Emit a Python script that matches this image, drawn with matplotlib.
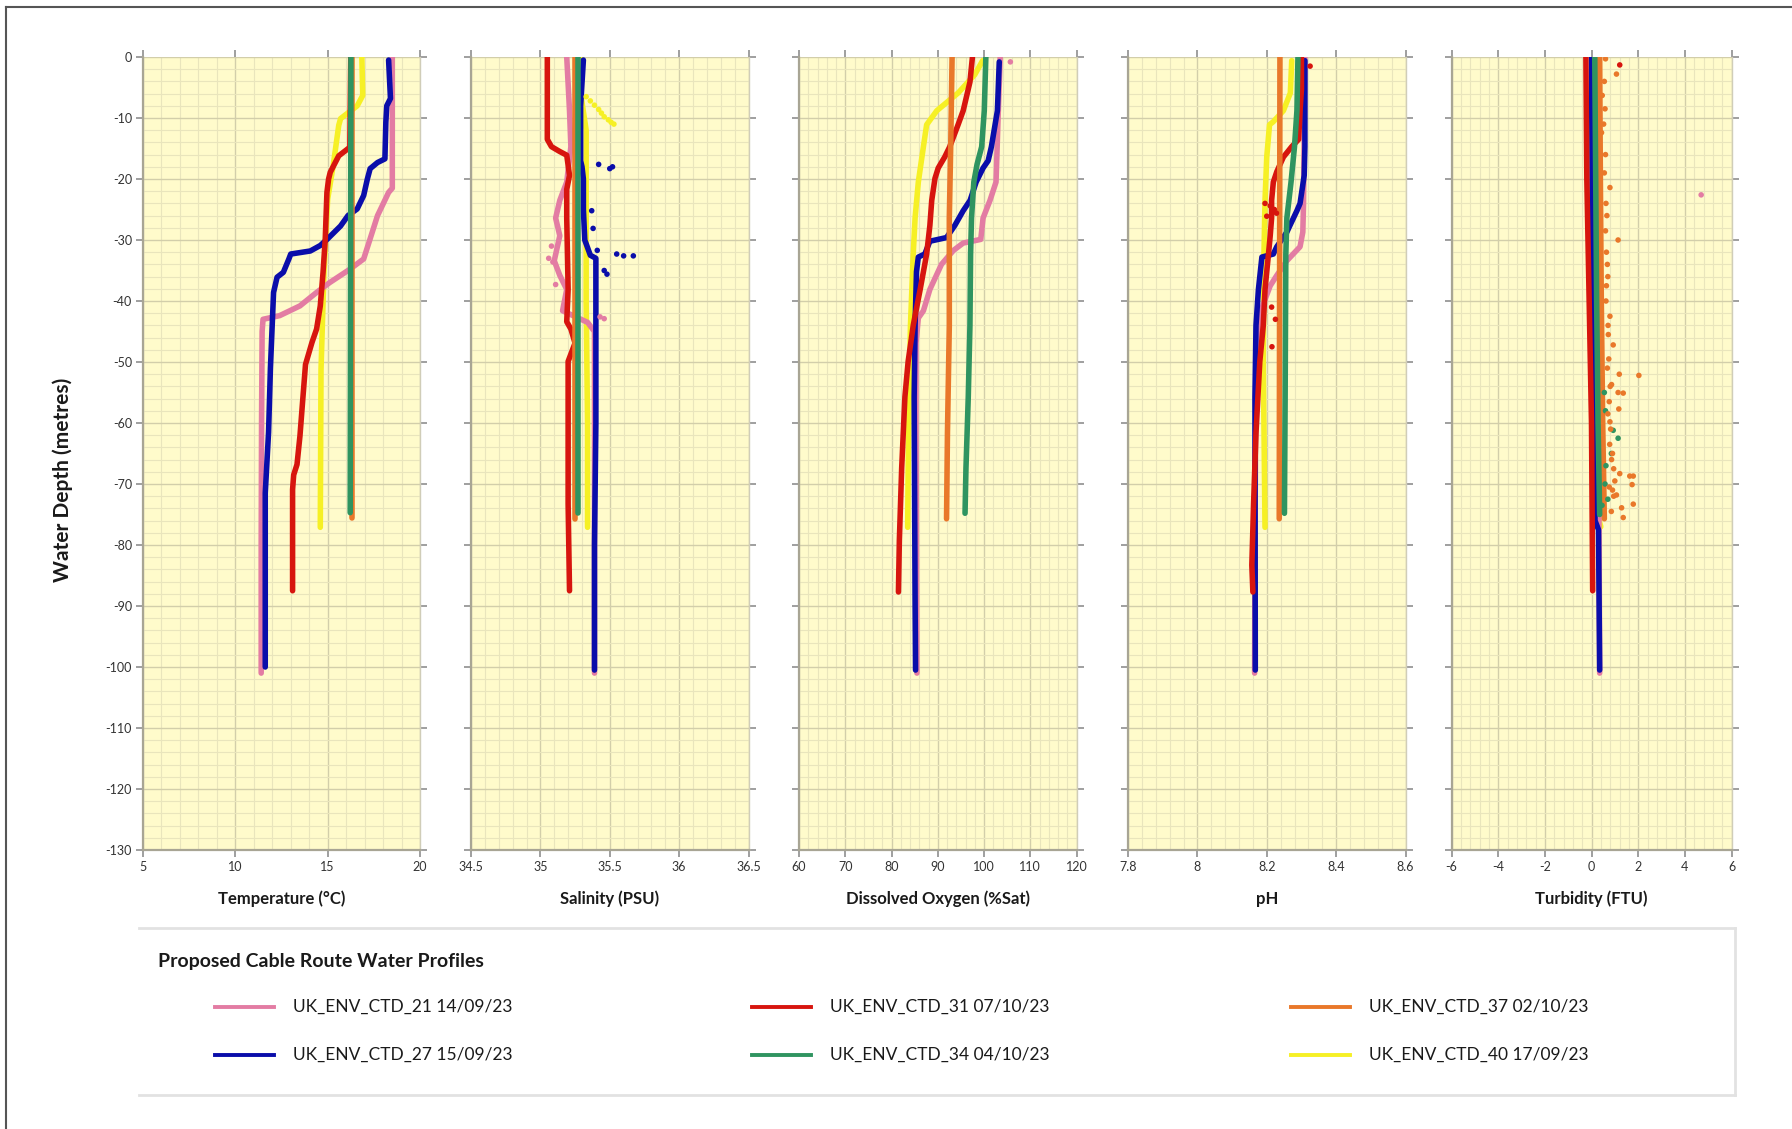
import matplotlib
matplotlib.use("Agg")
import matplotlib.pyplot as plt
from matplotlib.lines import Line2D
from matplotlib.ticker import MultipleLocator, FuncFormatter

plt.rcParams['font.family'] = ['Lato', 'DejaVu Sans']

# ---------------- series ----------------
SERIES = ["UK_ENV_CTD_21 14/09/23", "UK_ENV_CTD_27 15/09/23", "UK_ENV_CTD_31 07/10/23",
          "UK_ENV_CTD_34 04/10/23", "UK_ENV_CTD_37 02/10/23", "UK_ENV_CTD_40 17/09/23"]
COLORS = ["#E37CA3", "#0A0DAA", "#D7150E", "#2F9460", "#E9782A", "#F6F025"]

# ---------------- Temperature (°C) ----------------
T21_D = [0, -21.5, -22.2, -26, -29.8, -33.1, -34.8, -37, -38.6, -40.8, -42.4, -43, -45, -60, -80, -101]
T21_V = [18.5, 18.5, 18.3, 17.7, 17.3, 16.95, 16.2, 15.1, 14.4, 13.5, 12.4, 11.5, 11.45, 11.42, 11.4, 11.4]
T27_D = [-0.5, -6.8, -8, -10.7, -16.7, -17.3, -18.3, -20, -22.7, -24.9, -26, -27.7, -29.8, -30.9, -31.8,
         -32.3, -33.1, -35.3, -36.1, -38.6, -51, -61.5, -71.5, -100]
T27_V = [18.3, 18.4, 18.2, 18.15, 18.1, 17.7, 17.3, 17.15, 16.95, 16.6, 16.1, 15.7, 15.0, 14.6, 14.06,
         13.0, 12.9, 12.6, 12.26, 12.07, 11.9, 11.8, 11.62, 11.62]
T31_D = [0, -14.8, -16.2, -18.9, -20, -22.2, -29.8, -35.3, -40.8, -44.6, -46.8, -50.4, -56.2, -62.1,
         -66.8, -68.5, -70.9, -87.5]
T31_V = [16.25, 16.2, 15.6, 15.14, 15.05, 14.96, 14.87, 14.75, 14.6, 14.4, 14.15, 13.8, 13.65, 13.5,
         13.34, 13.16, 13.1, 13.1]
T34_D = [0, -74.7]
T34_V = [16.26, 16.22]
T37_D = [0, -75.6]
T37_V = [16.33, 16.33]
T40_D = [0, -6.3, -8, -10.1, -11.2, -17.8, -23.3, -35.3, -51.2, -77.1]
T40_V = [16.85, 16.9, 16.6, 15.7, 15.6, 15.3, 15.0, 14.8, 14.64, 14.6]

# ---------------- Salinity (PSU) ----------------
S21_D = [0, -8.8, -14.7, -20.5, -23.5, -26.4, -29.3, -33.4, -35.8, -38.1, -41.6, -43.5, -45, -60, -80, -101]
S21_V = [35.19, 35.21, 35.22, 35.19, 35.14, 35.11, 35.14, 35.1, 35.14, 35.19, 35.16, 35.34, 35.39, 35.39, 35.39, 35.39]
S21_OUT_D = [-31.0, -33.0, -33.6, -37.3, -42.6, -42.9]
S21_OUT_V = [35.08, 35.06, 35.09, 35.11, 35.43, 35.46]
S27_D = [-0.5, -8, -17, -18, -20, -25, -30, -32.5, -33, -36, -40, -60, -80, -100.5]
S27_V = [35.31, 35.29, 35.29, 35.30, 35.31, 35.31, 35.32, 35.36, 35.40, 35.40, 35.40, 35.40, 35.39, 35.39]
S27_OUT_D = [-17.6, -18.0, -18.3, -25.2, -28.1, -31.7, -32.3, -32.6, -32.6, -35.0, -35.6]
S27_OUT_V = [35.42, 35.52, 35.50, 35.37, 35.38, 35.41, 35.55, 35.60, 35.67, 35.46, 35.48]
S31_D = [0, -13.5, -14.7, -15.5, -16.1, -19.4, -21.7, -26.4, -38.1, -43.4, -44.6, -46.9, -48.7, -49.9,
         -55.7, -73.3, -87.5]
S31_V = [35.05, 35.05, 35.08, 35.14, 35.19, 35.21, 35.19, 35.19, 35.2, 35.19, 35.22, 35.25, 35.22, 35.2,
         35.2, 35.2, 35.21]
S34_D = [0, -74.8]
S34_V = [35.27, 35.27]
S37_D = [0, -75.7]
S37_V = [35.25, 35.25]
S40_D = [0, -5.9, -12, -20, -40, -60, -77.1]
S40_V = [35.29, 35.29, 35.33, 35.33, 35.33, 35.34, 35.34]
S40_OUT_D = [-6.5, -7.2, -7.9, -8.6, -9.2, -9.8, -10.3, -10.7, -11.0]
S40_OUT_V = [35.33, 35.36, 35.39, 35.42, 35.44, 35.46, 35.49, 35.51, 35.53]

# ---------------- Dissolved Oxygen (%Sat) ----------------
D21_D = [0, -8.8, -20.5, -23.5, -26.4, -29.9, -30.5, -31.7, -34, -38.1, -41.6, -42.8, -46.9, -60, -80, -101]
D21_V = [103.5, 103.1, 102.6, 101.3, 99.8, 99.3, 95.5, 93.4, 90.8, 88.3, 86.9, 85.8, 85.3, 85.3, 85.4, 85.5]
D21_OUT_D = [-0.8]
D21_OUT_V = [105.7]
D27_D = [-0.8, -8.8, -14.7, -17, -18.2, -20.5, -23.5, -25.2, -27.6, -29.6, -30.2, -32.3, -32.8, -35.2,
         -44, -55.7, -89, -100.5]
D27_V = [103.3, 102.9, 101.6, 100.9, 99.8, 98.3, 97.0, 95.5, 93.7, 91.9, 88.3, 87.2, 85.8, 85.4,
         85.1, 84.9, 85.1, 85.2]
D31_D = [0, -4.1, -8.8, -11.1, -14.7, -16.4, -18.2, -19.9, -23.5, -27.6, -32.3, -38.1, -44, -49.9,
         -55.7, -67.4, -79.2, -87.7]
D31_V = [97.5, 96.96, 95.5, 94.4, 92.6, 91.5, 90.1, 89.4, 88.7, 88.3, 87.6, 86.2, 84.7, 83.6,
         82.9, 82.2, 81.7, 81.5]
D34_D = [0, -8.8, -14.7, -17.6, -20.5, -26.4, -32.3, -44, -55.7, -67.4, -74.8]
D34_V = [100.4, 100.06, 99.5, 98.5, 97.8, 97.3, 97.1, 96.96, 96.6, 96.1, 95.9]
D37_D = [0, -14.7, -26.4, -44, -61.6, -75.7]
D37_V = [93.1, 92.8, 92.5, 92.5, 92.1, 91.9]
D40_D = [-0.6, -2.9, -5.9, -8.8, -11.1, -14.7, -20.5, -26.4, -32.3, -44, -55.7, -67.4, -77.1]
D40_V = [99.7, 98.0, 94.4, 89.8, 87.6, 86.9, 85.8, 85.1, 84.7, 84.1, 83.8, 83.6, 83.5]

# ---------------- pH ----------------
P21_D = [0, -24, -28.7, -31.1, -33.4, -35.8, -37.5, -40.5, -44, -60, -80, -101]
P21_V = [8.31, 8.306, 8.304, 8.296, 8.258, 8.229, 8.21, 8.19, 8.176, 8.168, 8.166, 8.165]
P27_D = [-0.6, -14.7, -19.4, -24, -25.2, -27.6, -28.7, -31.1, -32.3, -32.8, -38.1, -44, -55.7, -100.5]
P27_V = [8.31, 8.31, 8.308, 8.296, 8.287, 8.267, 8.258, 8.229, 8.219, 8.186, 8.176, 8.169, 8.166, 8.167]
P31_D = [0, -5.3, -8.8, -13.5, -14.7, -16.4, -18.8, -20.5, -23.5, -26.4, -29.3, -32.3, -38.1, -44,
         -49.9, -61.6, -73.3, -83.3, -87.7]
P31_V = [8.30, 8.30, 8.296, 8.292, 8.272, 8.248, 8.229, 8.219, 8.214, 8.214, 8.21, 8.205, 8.195, 8.19,
         8.18, 8.169, 8.162, 8.157, 8.16]
P31_OUT_D = [-1.5, -24.0, -24.4, -25.0, -25.6, -26.1, -41.0, -43.0, -47.5]
P31_OUT_V = [8.325, 8.195, 8.21, 8.222, 8.228, 8.2, 8.214, 8.225, 8.215]
P34_D = [0, -8.8, -14.7, -20.5, -26.4, -32.3, -55.7, -74.8]
P34_V = [8.29, 8.287, 8.28, 8.27, 8.258, 8.255, 8.253, 8.251]
P37_D = [0, -75.7]
P37_V = [8.238, 8.236]
P40_D = [-0.6, -5.9, -8.8, -10.6, -11.1, -16.4, -23.5, -32.3, -49.9, -77.1]
P40_V = [8.272, 8.268, 8.248, 8.219, 8.208, 8.2, 8.195, 8.192, 8.19, 8.195]

# ---------------- Turbidity (FTU) ----------------
U21_D = [0, -60, -101]
U21_V = [0.25, 0.3, 0.35]
U21_OUT_D = [-22.6]
U21_OUT_V = [4.7]
U27_D = [0, -40, -76, -77.5, -100.5]
U27_V = [0.0, 0.05, 0.15, 0.3, 0.35]
U31_D = [0, -20, -40, -60, -87.5]
U31_V = [-0.24, -0.2, -0.1, 0.0, 0.05]
U34_D = [0, -20, -40, -60, -75]
U34_V = [0.14, 0.18, 0.22, 0.28, 0.35]
U34_OUT_D = [-61.2, -62.5, -65.0, -72.5, -55.0, -58.0, -67.0, -70.0, -73.5]
U34_OUT_V = [0.93, 1.14, 0.85, 0.7, 0.55, 0.6, 0.62, 0.58, 0.45]
U37_D = [0, -20, -40, -60, -75.7]
U37_V = [0.35, 0.38, 0.42, 0.48, 0.55]
U37_OUT_D = [-0.3, -2.8, -6.3, -12.4, -21.4, -30, -37.5, -42.5, -44, -47.2, -52, -52.2, -53.7, -55,
             -55.1, -57.7, -59.8, -68.3, -68.7, -68.7, -70.1, -70.5, -71.8, -73.3, -73.9, -75.5,
             -4.0, -8.5, -11.0, -16.0, -19.0, -24.0, -26.0, -28.5, -32.0, -34.0, -36.0, -40.0,
             -45.5, -49.5, -51.0, -54.0, -56.5, -58.5, -61.0, -63.5, -65.0, -66.0, -67.5, -69.5,
             -71.0, -72.0, -74.5]
U37_OUT_V = [0.6, 1.07, 0.46, 0.43, 0.79, 1.14, 0.64, 0.79, 0.71, 0.93, 1.19, 2.03, 0.86, 1.14,
             1.36, 1.17, 0.79, 1.21, 1.64, 1.79, 1.74, 0.76, 1.07, 1.79, 1.29, 1.36,
             0.55, 0.58, 0.52, 0.6, 0.55, 0.62, 0.66, 0.6, 0.64, 0.68, 0.7, 0.62,
             0.72, 0.74, 0.68, 0.8, 0.76, 0.7, 0.82, 0.78, 0.9, 0.86, 0.95, 1.0,
             0.9, 0.95, 0.85]
U31_OUT_D = [-1.3]
U31_OUT_V = [1.21]
U40_D = [0, -20, -40, -60, -75, -77]
U40_V = [0.1, 0.1, 0.12, 0.2, 0.25, 0.4]

# ---------------- axes definitions ----------------
XLABELS = ["Temperature (°C)", "Salinity (PSU)", "Dissolved Oxygen (%Sat)", "pH", "Turbidity (FTU)"]
XLIMS = [(5, 20), (34.5, 36.5), (60, 120), (7.8, 8.6), (-6, 6)]
XMAJOR = [5, 0.5, 10, 0.2, 2]

PANELS = [
    [(T21_D, T21_V), (T27_D, T27_V), (T31_D, T31_V), (T34_D, T34_V), (T37_D, T37_V), (T40_D, T40_V)],
    [(S21_D, S21_V), (S27_D, S27_V), (S31_D, S31_V), (S34_D, S34_V), (S37_D, S37_V), (S40_D, S40_V)],
    [(D21_D, D21_V), (D27_D, D27_V), (D31_D, D31_V), (D34_D, D34_V), (D37_D, D37_V), (D40_D, D40_V)],
    [(P21_D, P21_V), (P27_D, P27_V), (P31_D, P31_V), (P34_D, P34_V), (P37_D, P37_V), (P40_D, P40_V)],
    [(U21_D, U21_V), (U27_D, U27_V), (U31_D, U31_V), (U34_D, U34_V), (U37_D, U37_V), (U40_D, U40_V)],
]
OUTLIERS = [
    [],
    [(0, S21_OUT_D, S21_OUT_V), (1, S27_OUT_D, S27_OUT_V), (5, S40_OUT_D, S40_OUT_V)],
    [(0, D21_OUT_D, D21_OUT_V)],
    [(2, P31_OUT_D, P31_OUT_V)],
    [(0, U21_OUT_D, U21_OUT_V), (3, U34_OUT_D, U34_OUT_V), (4, U37_OUT_D, U37_OUT_V), (2, U31_OUT_D, U31_OUT_V)],
]

# ---------------- figure ----------------
W, H = 1792, 1129
fig = plt.figure(figsize=(W / 100, H / 100), dpi=100)
fig.patch.set_facecolor("white")

def fx(p):
    return p / W

def fy(p):
    return 1 - p / H

AX_X = [(143, 420), (471, 748.5), (799, 1076.5), (1128, 1405.5), (1451.5, 1731.5)]
AX_TOP, AX_BOT = 57, 850
DRAW_ORDER = [5, 0, 1, 2, 4, 3]

fmt = FuncFormatter(lambda v, p: ("%g" % round(v, 6)).replace("\u2212", "-"))

for k in range(5):
    l, r = AX_X[k]
    ax = fig.add_axes([fx(l), fy(AX_BOT), (r - l) / W, (AX_BOT - AX_TOP) / H])
    ax.set_facecolor("#FFFBCB")
    ax.set_xlim(*XLIMS[k])
    ax.set_ylim(-130, 0)
    ax.xaxis.set_major_locator(MultipleLocator(XMAJOR[k]))
    ax.xaxis.set_minor_locator(MultipleLocator(XMAJOR[k] / 5))
    ax.yaxis.set_major_locator(MultipleLocator(10))
    ax.yaxis.set_minor_locator(MultipleLocator(2))
    ax.xaxis.set_major_formatter(fmt)
    ax.yaxis.set_major_formatter(fmt)
    ax.grid(which="major", color="#D2CEAA", lw=1.0)
    ax.grid(which="minor", color="#E9E5BC", lw=0.8)
    ax.set_axisbelow(True)
    ax.tick_params(which="major", direction="out", length=5, width=1.2, color="#8F8F8F",
                   labelsize=9, labelcolor="#333333", pad=3,
                   top=True, bottom=True, left=True, right=True, labelleft=(k == 0))
    ax.tick_params(which="minor", length=0)
    for s in ["left", "bottom"]:
        ax.spines[s].set_color("#A8A594")
        ax.spines[s].set_linewidth(1.6)
    ax.spines["right"].set_color("#D0CDB8")
    ax.spines["right"].set_linewidth(1.0)
    ax.spines["top"].set_visible(False)

    for i in DRAW_ORDER:
        d, v = PANELS[k][i]
        ax.plot(v, d, color=COLORS[i], lw=4.0, solid_capstyle="round", solid_joinstyle="round",
                zorder=3 + DRAW_ORDER.index(i))
    for (i, d, v) in OUTLIERS[k]:
        ax.scatter(v, d, s=16, color=COLORS[i], edgecolors="none", zorder=10)

    fig.text(fx((l + r) / 2), fy(899), XLABELS[k], ha="center", va="center",
             fontsize=12, fontweight="bold", color="#1a1a1a")

fig.text(fx(63), fy(480), "Water Depth (metres)", rotation=90, ha="center", va="center",
         fontsize=15, fontweight="bold", color="#1a1a1a")

# ---------------- legend ----------------
box = "#E2E2E2"
fig.add_artist(Line2D([fx(139), fx(1735)], [fy(928), fy(928)], color=box, lw=2))
fig.add_artist(Line2D([fx(139), fx(1735)], [fy(1095), fy(1095)], color=box, lw=2))
fig.add_artist(Line2D([fx(1735), fx(1735)], [fy(928), fy(1095)], color=box, lw=2))
fig.text(fx(158), fy(961), "Proposed Cable Route Water Profiles", ha="left", va="center",
         fontsize=14, fontweight="bold", color="#1a1a1a")
COL_X = [215, 752, 1291]
ROW_Y = [1007, 1055]
for i, name in enumerate(SERIES):
    cx = COL_X[i // 2]
    ry = ROW_Y[i % 2]
    fig.add_artist(Line2D([fx(cx), fx(cx + 59)], [fy(ry), fy(ry)], color=COLORS[i], lw=2.8))
    fig.text(fx(cx + 78), fy(ry), name, ha="left", va="center", fontsize=12.5, color="#1a1a1a")

# outer frame (left and top)
fig.add_artist(Line2D([fx(6), fx(6)], [fy(7), 0], color="#555555", lw=1.5))
fig.add_artist(Line2D([fx(6), 1], [fy(7), fy(7)], color="#555555", lw=1.5))

fig.savefig("out.png", dpi=100)
